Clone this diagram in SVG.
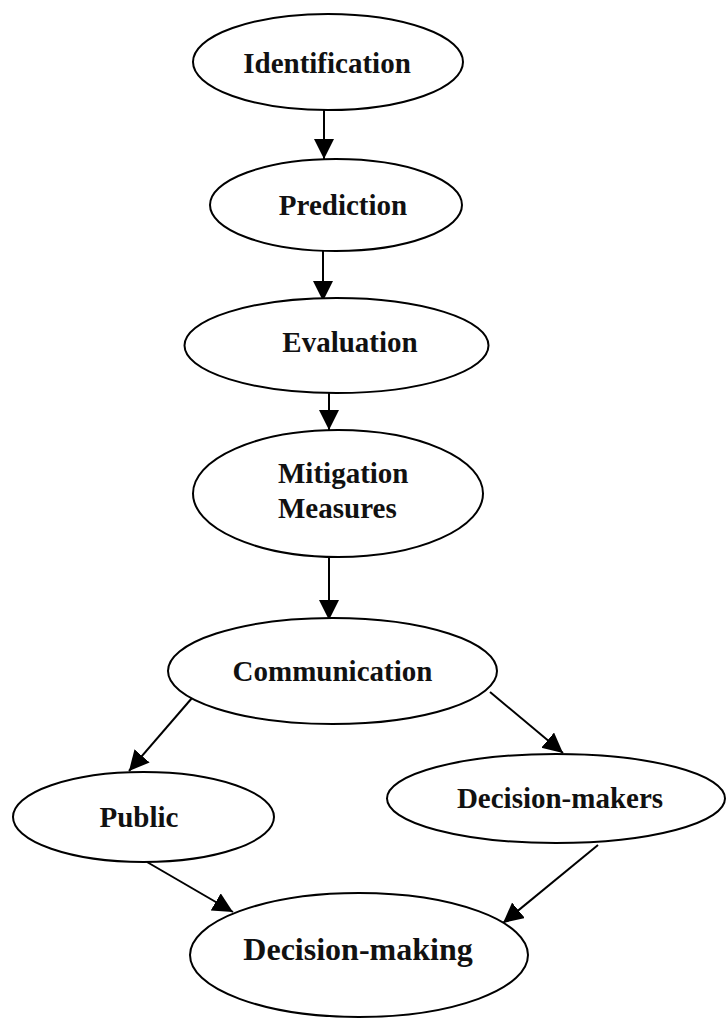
<svg xmlns="http://www.w3.org/2000/svg" width="727" height="1019" viewBox="0 0 727 1019">
<style>
.node ellipse{fill:#fff;stroke:#000;stroke-width:2}
.node text{font-family:"Liberation Serif","Times New Roman",serif;font-weight:bold;font-size:29px;fill:#111;text-anchor:middle}
.edges line{stroke:#000;stroke-width:2;marker-end:url(#ah)}
</style>
<defs>
<marker id="ah" markerUnits="userSpaceOnUse" markerWidth="22" markerHeight="22" refX="20" refY="10" orient="auto">
<path d="M0,0 L20,10 L0,20 z" fill="#000"/>
</marker>
</defs>
<rect width="727" height="1019" fill="#fff"/>
<g class="edges">
<line x1="324" y1="110" x2="324" y2="159"/>
<line x1="323" y1="250" x2="323" y2="301"/>
<line x1="329" y1="393" x2="329" y2="430"/>
<line x1="329" y1="557" x2="329" y2="620"/>
<line x1="192" y1="698" x2="129" y2="771"/>
<line x1="490" y1="692" x2="563" y2="753"/>
<line x1="147" y1="862" x2="233" y2="912"/>
<line x1="598" y1="845" x2="503" y2="923"/>
</g>
<g id="identification" class="node"><ellipse cx="328" cy="62" rx="135" ry="48"/><text x="327" y="73">Identification</text></g>
<g id="prediction" class="node"><ellipse cx="336" cy="205" rx="126" ry="46"/><text x="343" y="215">Prediction</text></g>
<g id="evaluation" class="node"><ellipse cx="336.5" cy="345.5" rx="152" ry="47.5"/><text x="350" y="352">Evaluation</text></g>
<g id="mitigation" class="node"><ellipse cx="338" cy="493.5" rx="145" ry="63.5"/><text x="278" y="483" style="text-anchor:start">Mitigation</text><text x="278" y="518" style="text-anchor:start">Measures</text></g>
<g id="communication" class="node"><ellipse cx="332.5" cy="671" rx="164.5" ry="53"/><text x="332.5" y="681">Communication</text></g>
<g id="public" class="node"><ellipse cx="143.5" cy="817" rx="130.5" ry="45"/><text x="139" y="827">Public</text></g>
<g id="decision-makers" class="node"><ellipse cx="556" cy="798.5" rx="169" ry="44.5"/><text x="560" y="808">Decision-makers</text></g>
<g id="decision-making" class="node"><ellipse cx="359" cy="955" rx="169" ry="62"/><text x="358" y="960" style="font-size:32px">Decision-making</text></g>
</svg>
